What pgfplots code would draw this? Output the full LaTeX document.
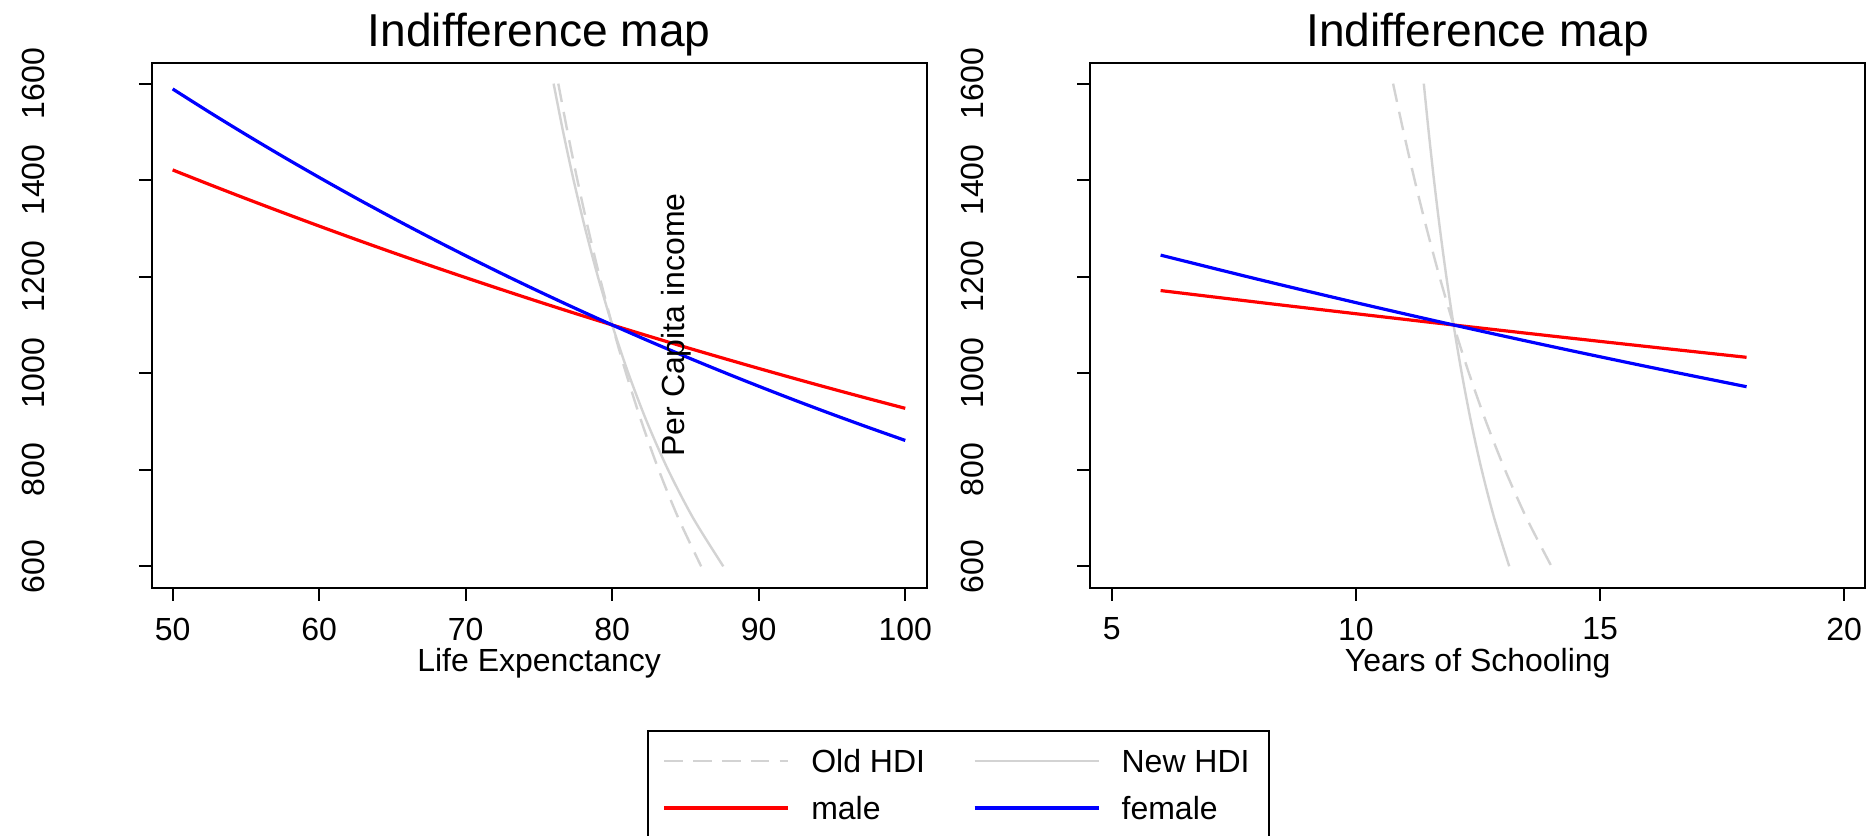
\documentclass[border=0pt]{standalone}
\usepackage{fontspec}
\setmainfont{Liberation Sans}
\usepackage{pgfplots}
\pgfplotsset{compat=1.18}
\definecolor{hdigray}{HTML}{D3D3D3}

\pgfplotsset{
  hdi/.style={
    scale only axis, width=290.6pt, height=196.9pt,
    anchor=south west,
    axis line style={line width=0.7pt},
    tick align=outside, tick pos=left,
    major tick length=4.8pt,
    every tick/.style={black, line width=0.7pt},
    ymin=555.7, ymax=1643.5,
    ytick={600,800,1000,1200,1400,1600},
    /pgf/number format/1000 sep={},
    /pgf/number format/assume math mode=true,
    ticklabel style={font=\fontsize{12}{14}\selectfont, inner sep=0pt},
    yticklabel style={rotate=90, anchor=south},
    xticklabel style={anchor=north},
    yticklabel shift=35.1pt,
    xticklabel shift=6.3pt,
    title={Indifference map},
    title style={at={(axis description cs:0.5,1)}, anchor=base,
      font=\fontsize{17.3}{20}\selectfont},
    xlabel style={at={(axis description cs:0.5,0)}, anchor=base, yshift=-31.5pt,
      font=\fontsize{12}{14}\selectfont},
  },
  oldhdi/.style={hdigray, line width=0.9pt, dash pattern=on 7pt off 3.8pt, smooth},
  newhdi/.style={hdigray, line width=0.9pt, smooth},
  male/.style={red, line width=1.2pt, smooth},
  female/.style={blue, line width=1.2pt, smooth},
}

\begin{document}
\begin{tikzpicture}
\useasboundingbox (0,0) rectangle (699.75pt,313.125pt);
\clip (0,0) rectangle (699.75pt,313.125pt);

% left panel: life expectancy
\begin{axis}[hdi, at={(56.89pt,92.74pt)},
  xmin=48.57, xmax=101.46, xtick={50,60,70,80,90,100},
  xlabel={Life Expenctancy},
  legend columns=2,
  legend image code/.code={\draw[#1] (0pt,0pt) -- (46.5pt,0pt);},
  legend style={at={(axis description cs:0.6397,-0.271)}, anchor=north west,
    draw=black, line width=0.7pt, font=\fontsize{12}{14}\selectfont,
    inner xsep=5.4pt, inner ysep=5pt, row sep=5pt,
    nodes={inner sep=2pt, text height=8.6pt, text depth=0pt},
    /tikz/every odd column/.append style={column sep=6pt},
    /tikz/every even column/.append style={column sep=16pt}},
  legend cell align=left]
\addplot[oldhdi] coordinates {(76.320,1600) (76.950,1500) (77.625,1400) (78.353,1300) (79.140,1200) (80,1100) (80.945,1000) (81.994,900) (83.171,800) (84.513,700) (86.070,600)};
\addplot[newhdi] coordinates {(76.000,1600) (76.652,1500) (77.365,1400) (78.152,1300) (79.024,1200) (80,1100) (81.101,1000) (82.358,900) (83.812,800) (85.523,700) (87.581,600)};
\addplot[male] coordinates {(50,1421.2) (52.5,1391.2) (55,1361.8) (57.5,1333.1) (60,1304.9) (62.5,1277.3) (65,1250.3) (67.5,1223.9) (70,1198.1) (72.5,1172.8) (75,1148.0) (77.5,1123.7) (80,1100) (82.5,1076.8) (85,1054.0) (87.5,1031.8) (90,1010.0) (92.5,988.6) (95,967.7) (97.5,947.3) (100,927.3)};
\addplot[female] coordinates {(50,1589.0) (52.5,1541.0) (55,1494.5) (57.5,1449.4) (60,1405.7) (62.5,1363.2) (65,1322.1) (67.5,1282.2) (70,1243.5) (72.5,1205.9) (75,1169.5) (77.5,1134.2) (80,1100) (82.5,1066.8) (85,1034.6) (87.5,1003.4) (90,973.1) (92.5,943.7) (95,915.2) (97.5,887.6) (100,860.8)};
\legend{Old HDI, New HDI, male, female}
\node[rotate=90, anchor=base, font=\fontsize{12}{14}\selectfont] at (axis cs:84.94,1100) {Per Capita income};
\end{axis}

% right panel: years of schooling
\begin{axis}[hdi, at={(408.86pt,92.74pt)},
  xmin=4.56, xmax=20.43, xtick={5,10,15,20},
  xlabel={Years of Schooling}]
\addplot[oldhdi] coordinates {(10.761,1600) (10.975,1500) (11.203,1400) (11.448,1300) (11.712,1200) (12,1100) (12.315,1000) (12.663,900) (13.053,800) (13.494,700) (14.004,600)};
\addplot[newhdi] coordinates {(11.390,1600) (11.490,1500) (11.599,1400) (11.719,1300) (11.852,1200) (12,1100) (12.167,1000) (12.356,900) (12.575,800) (12.832,700) (13.140,600)};
\addplot[male] coordinates {(6,1171.3) (8,1147.0) (10,1123.3) (12,1100) (14,1077.2) (16,1054.9) (18,1033.0)};
\addplot[female] coordinates {(6,1244.7) (8,1194.5) (10,1146.3) (12,1100) (14,1055.6) (16,1013.0) (18,972.1)};
\end{axis}
\end{tikzpicture}
\end{document}
